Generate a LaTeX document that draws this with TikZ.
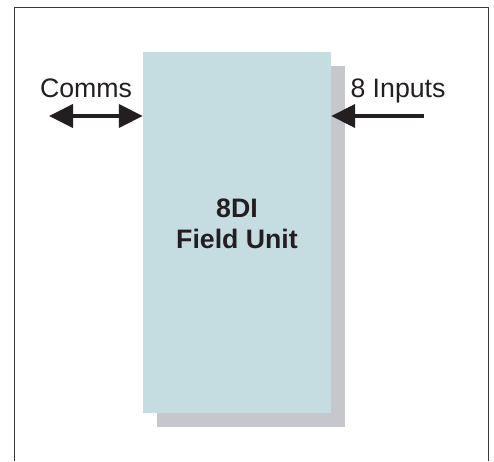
\documentclass[tikz,border=0pt]{standalone}
\usepackage{fontspec}
\setmainfont{Liberation Sans}
\usetikzlibrary{arrows.meta}
\definecolor{boxfill}{HTML}{C5DDE1}
\definecolor{shadowfill}{HTML}{C5C7CC}
\definecolor{ink}{HTML}{231F20}
\definecolor{framec}{HTML}{3A3A3A}
\tikzset{
  unitbox/.style={draw=none, fill=boxfill, minimum width=188pt, minimum height=361pt, inner sep=0pt},
  shadowbox/.style={draw=none, fill=shadowfill, minimum width=188pt, minimum height=361pt, inner sep=0pt},
  lbl/.style={text=ink, font=\fontsize{26.7}{31}\selectfont, inner sep=0pt, anchor=base},
  unitlbl/.style={text=ink, font=\bfseries\fontsize{26.7}{31}\selectfont, align=center, inner sep=0pt},
  conn/.style={draw=ink, line width=4pt, -{Triangle[length=24pt,width=23pt]}},
  bidir/.style={draw=ink, line width=4pt, {Triangle[length=24pt,width=23pt]}-{Triangle[length=24pt,width=23pt]}},
  frameline/.style={draw=framec, line width=1pt}
}
\begin{document}
\begin{tikzpicture}[x=1pt,y=-1pt]
\useasboundingbox (0,0) rectangle (494,461);
\fill[white] (0,0) rectangle (494,461);
\draw[frameline] (14.5,461) -- (14.5,7.5) -- (488,7.5) -- (488,461);
\node[shadowbox] (shadow) at (251,246.5) {};
\node[unitbox] (unit) at (237,232.5) {};
\node[unitlbl] (ulbl) at (237,224) {8DI\\Field Unit};
\node[lbl] (comms) at (86,97) {Comms};
\node[lbl] (inputs) at (398,97) {8 Inputs};
\coordinate (cl) at (49,116);
\coordinate (ir) at (424,116);
\draw[bidir] (cl) -- (unit.west |- cl);
\draw[conn] (ir) -- (unit.east |- ir);
\end{tikzpicture}
\end{document}
